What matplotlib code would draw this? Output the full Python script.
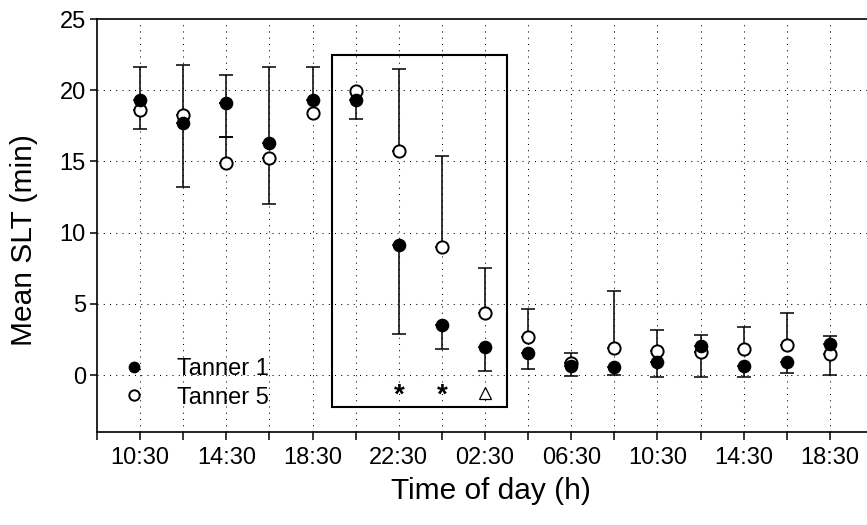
import numpy as np
import matplotlib
matplotlib.use("Agg")
import matplotlib.pyplot as plt
from matplotlib.patches import Rectangle

plt.rcParams['font.family'] = ['Liberation Sans', 'DejaVu Sans']

# time of day, one point every 2 h
times = ["10:30", "12:30", "14:30", "16:30", "18:30", "20:30", "22:30", "00:30",
         "02:30", "04:30", "06:30", "08:30", "10:30", "12:30", "14:30", "16:30", "18:30"]

# mean SLT (min)
tanner1 = [19.3, 17.7, 19.1, 16.3, 19.3, 19.3, 9.15, 3.53, 1.99, 1.52, 0.65,
           0.59, 0.94, 2.04, 0.66, 0.91, 2.2]
tanner5 = [18.6, 18.26, 14.9, 15.25, 18.4, 19.97, 15.7, 9.0, 4.35, 2.65, 0.82,
           1.9, 1.66, 1.62, 1.83, 2.08, 1.47]

# one-sided error bars (up / down)
t1_up = [2.3, 0, 2.0, 5.3, 2.3, 0, 0, 0, 0, 0, 0, 0, 0, 0.77, 0, 0, 0.56]
t1_dn = [0, 4.5, 2.4, 0, 0, 1.3, 6.25, 1.68, 1.71, 1.08, 0.72, 0.59, 1.1, 0, 0.8, 0.79, 0]
t5_up = [0, 3.54, 1.8, 0, 0, 0, 5.8, 6.4, 3.15, 2.01, 0.7, 3.98, 1.5, 0, 1.57, 2.3, 0]
t5_dn = [1.3, 0, 0, 3.25, 0, 0, 0, 0, 0, 0, 0, 0, 0, 1.74, 0, 0, 1.49]

# significance marks
star_idx = [6, 7]
tri_idx = [8]
mark_y = -1.25

x = np.arange(len(times))

fig = plt.figure(figsize=(8.67, 5.25), dpi=100)
ax = fig.add_axes([97/867, 93/525, 770/867, 413/525])


def bars(vals, up, dn):
    vals = np.array(vals)
    up = np.array(up)
    dn = np.array(dn)
    iu = up > 0
    idn = dn > 0
    ax.errorbar(x[iu], vals[iu], yerr=[np.zeros(iu.sum()), up[iu]], fmt='none',
                ecolor='black', elinewidth=1.1, capsize=5, capthick=1.1, zorder=3)
    ax.errorbar(x[idn], vals[idn], yerr=[dn[idn], np.zeros(idn.sum())], fmt='none',
                ecolor='black', elinewidth=1.1, capsize=5, capthick=1.1, zorder=3)


bars(tanner1, t1_up, t1_dn)
bars(tanner5, t5_up, t5_dn)

ax.plot(x, tanner5, 'o', ms=8.8, mfc='white', mec='black', mew=1.4, zorder=4,
        label="Tanner 5")
ax.plot(x, tanner1, 'o', ms=8.8, mfc='black', mec='black', mew=1.0, zorder=5,
        label="Tanner 1")

for i in star_idx:
    ax.text(x[i], mark_y, "*", fontsize=20, fontweight='bold', ha='center',
            va='center_baseline')
ax.plot(x[tri_idx], [mark_y] * len(tri_idx), '^', ms=8, mfc='white', mec='black',
        mew=0.9)

ax.add_patch(Rectangle((4.45, -2.25), 8.51 - 4.45, 22.5 + 2.25, fill=False,
                       edgecolor='black', lw=1.5, zorder=2))

ax.set_xlim(-1, 16.86)
ax.set_ylim(-4, 25)
ax.set_yticks([0, 5, 10, 15, 20, 25])
ax.set_xticks(np.arange(-1, len(times)))
ax.set_xticklabels([""] + [t if i % 2 == 0 else "" for i, t in enumerate(times)])

ax.grid(True, color='black', linestyle=(0, (1, 5)), linewidth=0.75)
ax.set_axisbelow(True)
# no gridline at the left spine / top
for gl in ax.get_xgridlines()[:1]:
    gl.set_visible(False)
for gl in ax.get_ygridlines()[-1:]:
    gl.set_visible(False)

ax.spines['right'].set_visible(False)
for s in ['left', 'bottom', 'top']:
    ax.spines[s].set_linewidth(1.2)
ax.tick_params(axis='x', direction='out', length=6, width=1.1, pad=5, labelsize=17)
ax.tick_params(axis='y', direction='out', length=5, width=1.1, pad=3, labelsize=17)

ax.set_xlabel("Time of day (h)", fontsize=21.5)
ax.set_ylabel("Mean SLT (min)", fontsize=21.5)
ax.xaxis.set_label_coords(0.512, -0.11)
ax.yaxis.set_label_coords(-0.077, 0.465)

handles, labels = ax.get_legend_handles_labels()
ax.legend(handles[::-1], labels[::-1], loc='center left',
          bbox_to_anchor=(0.0325, 0.118), bbox_transform=ax.transAxes,
          frameon=False, fontsize=17, markerscale=0.85, handlelength=1,
          handletextpad=1.33, labelspacing=0.28, borderpad=0, borderaxespad=0)

plt.savefig("out.png", dpi=100)
